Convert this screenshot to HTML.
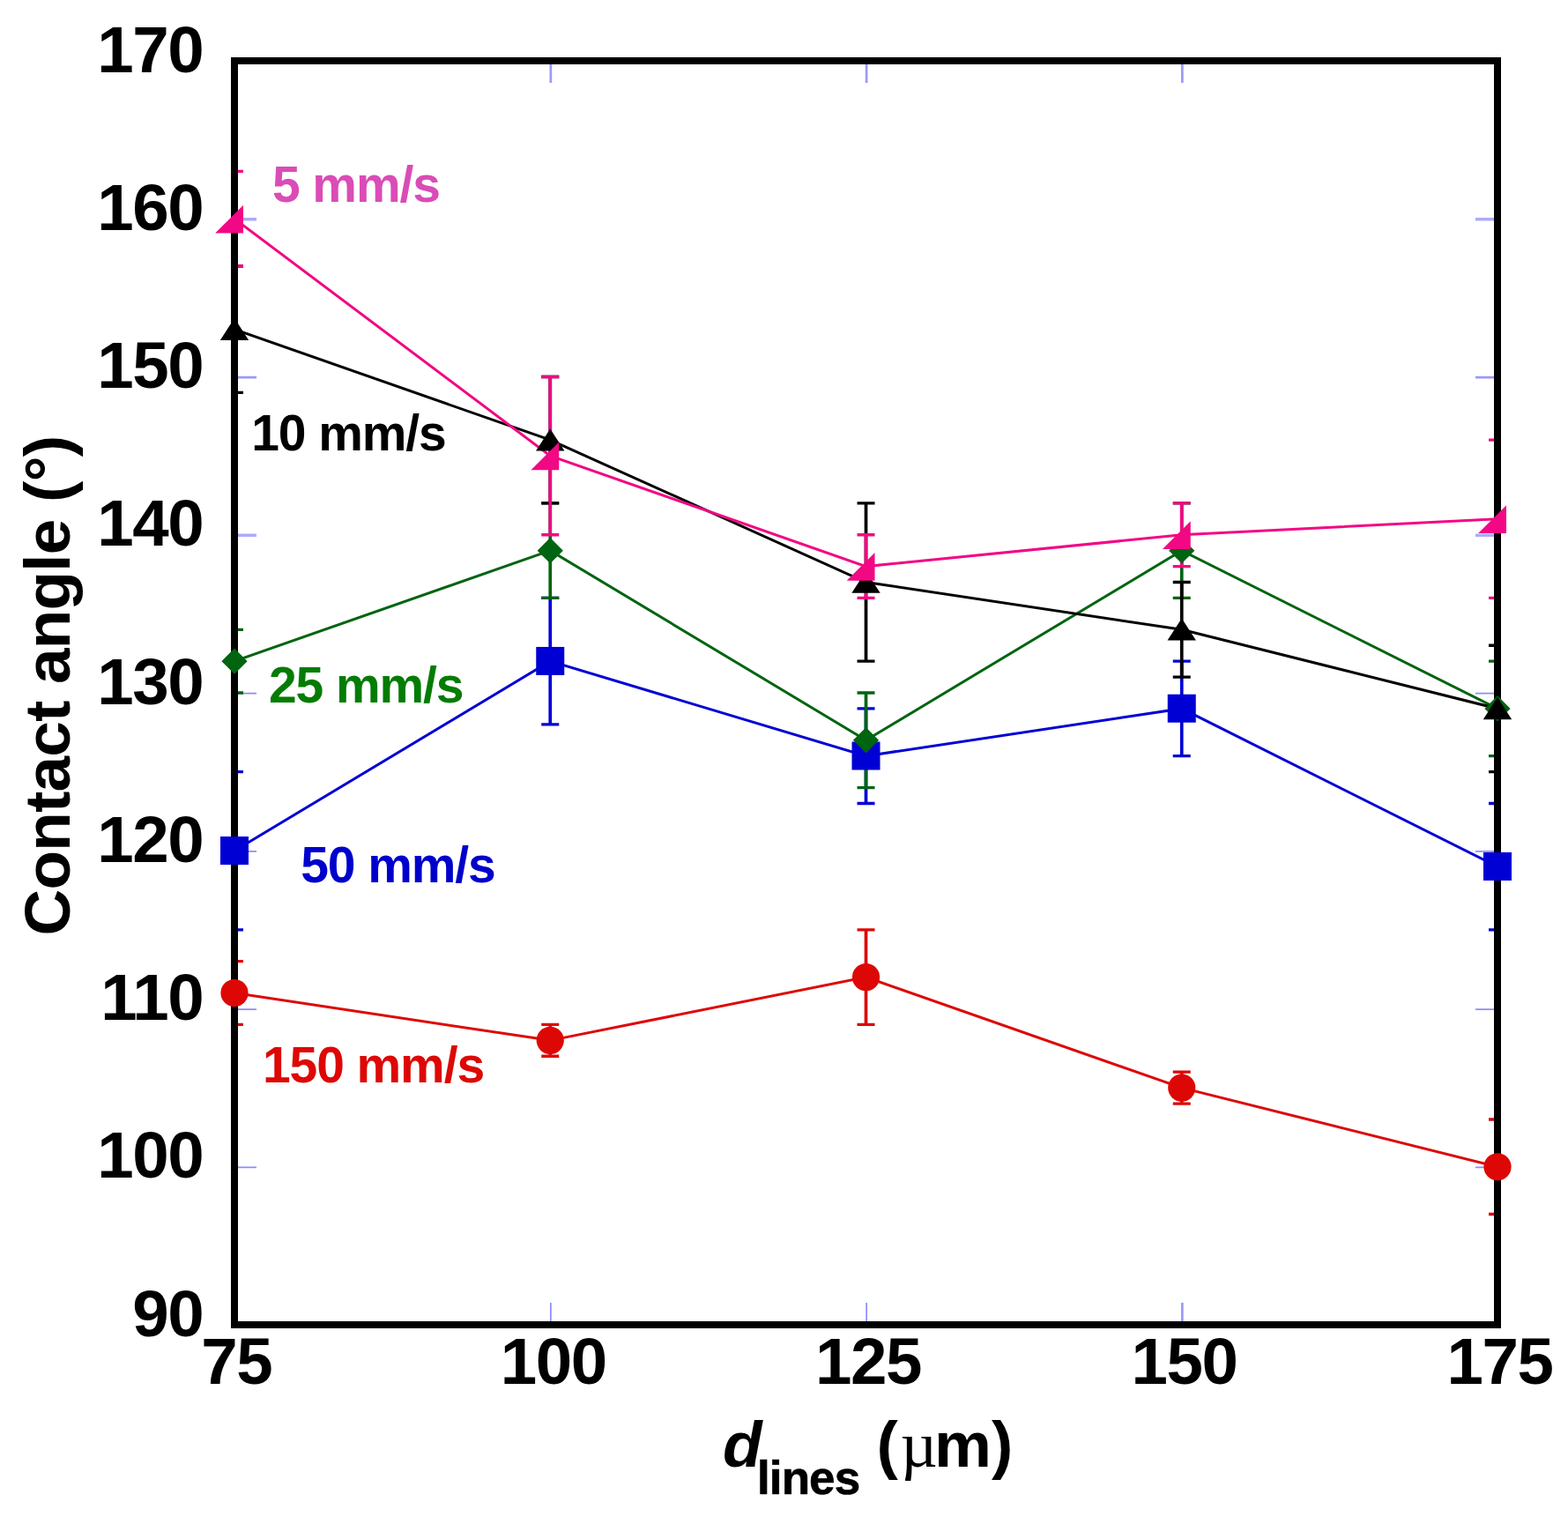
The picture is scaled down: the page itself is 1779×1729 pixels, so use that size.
<!DOCTYPE html>
<html lang="en">
<head>
<meta charset="utf-8">
<title>Contact angle vs line spacing</title>
<style>
html,body{margin:0;padding:0;background:#fff;}
body{width:1779px;height:1729px;overflow:hidden;}
svg{display:block;}
text{font-family:"Liberation Sans",sans-serif;font-weight:bold;white-space:pre;}
.tl{font-size:74.5px;letter-spacing:-1.4px;fill:#000;}
.sl{font-size:57px;letter-spacing:-1.1px;}
.al{font-size:73px;fill:#000;}
.yl{letter-spacing:-0.82px;}
.sub{font-size:53px;letter-spacing:-0.9px;stroke:#000;stroke-width:0.7px;}
.it{font-style:italic;}
.mu{font-family:"Liberation Serif",serif;font-weight:normal;}
</style>
</head>
<body>
<svg width="1779" height="1729" viewBox="0 0 1779 1729">
<rect x="0" y="0" width="1779" height="1729" fill="#fff"/>
<defs><clipPath id="plot"><rect x="266" y="69" width="1433" height="1434"/></clipPath></defs>
<g fill="none">
<path d="M270 248.85H291M1695 248.85H1674" stroke="#ababfc" stroke-width="3.5"/>
<path d="M270 428.1H291M1695 428.1H1674" stroke="#9a9afb" stroke-width="2.7"/>
<path d="M270 607.35H291M1695 607.35H1674" stroke="#ababfc" stroke-width="3.5"/>
<path d="M270 786.6H291M1695 786.6H1674" stroke="#8c8cfa" stroke-width="1.7"/>
<path d="M270 965.85H291M1695 965.85H1674" stroke="#8c8cfa" stroke-width="1.7"/>
<path d="M270 1145.1H291M1695 1145.1H1674" stroke="#8c8cfa" stroke-width="1.7"/>
<path d="M270 1324.35H291M1695 1324.35H1674" stroke="#8c8cfa" stroke-width="1.7"/>
<path d="M624.85 73V94" stroke="#9a9afb" stroke-width="2.7"/>
<path d="M624.85 1499V1478" stroke="#8c8cfa" stroke-width="1.7"/>
<path d="M983.1 73V94" stroke="#9a9afb" stroke-width="2.7"/>
<path d="M983.1 1499V1478" stroke="#8c8cfa" stroke-width="1.7"/>
<path d="M1341.35 73V94" stroke="#9a9afb" stroke-width="2.7"/>
<path d="M1341.35 1499V1478" stroke="#9a9afb" stroke-width="2.7"/>
</g>
<g clip-path="url(#plot)" fill="none">
<g stroke="#DD0806">
<path d="M266 1090.72V1162.42M624.25 1162.42V1198.27M982.5 1054.88V1162.42M1340.75 1216.2V1252.05M1699 1269.98V1377.52" stroke-width="3.7"/>
<path d="M256 1090.72H276M256 1162.42H276M614.25 1162.42H634.25M614.25 1198.27H634.25M972.5 1054.88H992.5M972.5 1162.42H992.5M1330.75 1216.2H1350.75M1330.75 1252.05H1350.75M1689 1269.98H1709M1689 1377.52H1709" stroke-width="3.3"/>
</g>
<g stroke="#0000D4">
<path d="M266 875.62V1054.88M624.25 678.45V821.85M982.5 803.92V911.48M1340.75 750.15V857.7M1699 911.48V1054.88" stroke-width="3.7"/>
<path d="M256 875.62H276M256 1054.88H276M614.25 678.45H634.25M614.25 821.85H634.25M972.5 803.92H992.5M972.5 911.48H992.5M1330.75 750.15H1350.75M1330.75 857.7H1350.75M1689 911.48H1709M1689 1054.88H1709" stroke-width="3.3"/>
</g>
<g stroke="#006411">
<path d="M266 714.3V786M624.25 570.9V678.45M982.5 786V893.55M1340.75 570.9V678.45M1699 750.15V857.7" stroke-width="3.7"/>
<path d="M256 714.3H276M256 786H276M614.25 570.9H634.25M614.25 678.45H634.25M972.5 786H992.5M972.5 893.55H992.5M1330.75 570.9H1350.75M1330.75 678.45H1350.75M1689 750.15H1709M1689 857.7H1709" stroke-width="3.3"/>
</g>
<g stroke="#000000">
<path d="M266 302.02V445.43M624.25 427.5V570.9M982.5 570.9V750.15M1340.75 660.52V768.07M1699 732.23V875.62" stroke-width="3.7"/>
<path d="M256 302.02H276M256 445.43H276M614.25 427.5H634.25M614.25 570.9H634.25M972.5 570.9H992.5M972.5 750.15H992.5M1330.75 660.52H1350.75M1330.75 768.07H1350.75M1689 732.23H1709M1689 875.62H1709" stroke-width="3.3"/>
</g>
<g stroke="#F20884">
<path d="M266 194.47V302.02M624.25 427.5V606.75M982.5 606.75V678.45M1340.75 570.9V642.6M1699 499.2V678.45" stroke-width="3.7"/>
<path d="M256 194.47H276M256 302.02H276M614.25 427.5H634.25M614.25 606.75H634.25M972.5 606.75H992.5M972.5 678.45H992.5M1330.75 570.9H1350.75M1330.75 642.6H1350.75M1689 499.2H1709M1689 678.45H1709" stroke-width="3.3"/>
</g>
<polyline points="266,1126.58 624.25,1180.35 982.5,1108.65 1340.75,1234.12 1699,1323.75" stroke="#DD0806" stroke-width="3.0"/>
<polyline points="266,965.25 624.25,750.15 982.5,857.7 1340.75,803.92 1699,983.17" stroke="#0000D4" stroke-width="3.0"/>
<polyline points="266,750.15 624.25,624.68 982.5,839.77 1340.75,624.68 1699,803.92" stroke="#006411" stroke-width="3.0"/>
<polyline points="266,373.72 624.25,499.2 982.5,660.52 1340.75,714.3 1699,803.92" stroke="#000000" stroke-width="3.0"/>
<polyline points="266,248.25 624.25,517.12 982.5,642.6 1340.75,606.75 1699,588.82" stroke="#F20884" stroke-width="3.0"/>
</g>
<rect x="266" y="69" width="1433" height="1434" fill="none" stroke="#000" stroke-width="8"/>
<g>
<circle cx="266" cy="1126.58" r="15.6" fill="#DD0806"/>
<circle cx="624.25" cy="1180.35" r="15.6" fill="#DD0806"/>
<circle cx="982.5" cy="1108.65" r="15.6" fill="#DD0806"/>
<circle cx="1340.75" cy="1234.12" r="15.6" fill="#DD0806"/>
<circle cx="1699" cy="1323.75" r="15.6" fill="#DD0806"/>
</g>
<g>
<rect x="250" y="949.05" width="32" height="32" fill="#0000D4"/>
<rect x="608.25" y="733.95" width="32" height="32" fill="#0000D4"/>
<rect x="966.5" y="841.5" width="32" height="32" fill="#0000D4"/>
<rect x="1324.75" y="787.72" width="32" height="32" fill="#0000D4"/>
<rect x="1683" y="966.97" width="32" height="32" fill="#0000D4"/>
</g>
<g>
<polygon points="266,735.55 280.6,750.15 266,764.75 251.4,750.15" fill="#006411"/>
<polygon points="624.25,610.08 638.85,624.68 624.25,639.28 609.65,624.68" fill="#006411"/>
<polygon points="982.5,825.17 997.1,839.77 982.5,854.38 967.9,839.77" fill="#006411"/>
<polygon points="1340.75,610.08 1355.35,624.68 1340.75,639.28 1326.15,624.68" fill="#006411"/>
<polygon points="1699,789.32 1713.6,803.92 1699,818.52 1684.4,803.92" fill="#006411"/>
</g>
<g>
<polygon points="266,360.92 282.2,386.02 249.8,386.02" fill="#000000"/>
<polygon points="624.25,486.4 640.45,511.5 608.05,511.5" fill="#000000"/>
<polygon points="982.5,647.73 998.7,672.82 966.3,672.82" fill="#000000"/>
<polygon points="1340.75,701.5 1356.95,726.6 1324.55,726.6" fill="#000000"/>
<polygon points="1699,791.12 1715.2,816.22 1682.8,816.22" fill="#000000"/>
</g>
<g>
<polygon points="244.2,264.45 276,264.45 276,232.65" fill="#F20884"/>
<polygon points="602.45,533.33 634.25,533.33 634.25,501.52" fill="#F20884"/>
<polygon points="960.7,658.8 992.5,658.8 992.5,627" fill="#F20884"/>
<polygon points="1318.95,622.95 1350.75,622.95 1350.75,591.15" fill="#F20884"/>
<polygon points="1677.2,605.02 1709,605.02 1709,573.22" fill="#F20884"/>
</g>
<text id="y170" class="tl" x="110.25" y="81.6">170</text>
<text id="y160" class="tl" x="110.25" y="260.85">160</text>
<text id="y150" class="tl" x="110.25" y="440.1">150</text>
<text id="y140" class="tl" x="110.25" y="619.35">140</text>
<text id="y130" class="tl" x="110.25" y="798.6">130</text>
<text id="y120" class="tl" x="110.25" y="977.85">120</text>
<text id="y110" class="tl" x="114.25" y="1157.1">110</text>
<text id="y100" class="tl" x="110.25" y="1336.35">100</text>
<text id="y90" class="tl" x="150.25" y="1515.6">90</text>
<text id="x75" class="tl" x="228.26" y="1570.3">75</text>
<text id="x100" class="tl" x="567.76" y="1570.3">100</text>
<text id="x125" class="tl" x="925" y="1570.3">125</text>
<text id="x150" class="tl" x="1283.51" y="1570.3">150</text>
<text id="x175" class="tl" x="1641.38" y="1570.3">175</text>
<text id="s5" class="sl" x="309" y="228.6" fill="#DA4CB6">5 mm/s</text>
<text id="s10" class="sl" x="285.25" y="511.2" fill="#000000">10 mm/s</text>
<text id="s25" class="sl" x="305" y="797.2" fill="#047C04">25 mm/s</text>
<text id="s50" class="sl" x="341.25" y="1000.8" fill="#0000CC">50 mm/s</text>
<text id="s150" class="sl" x="298" y="1228.1" fill="#DD0806">150 mm/s</text>
<text id="yl" class="al yl" transform="translate(78.9 1061.5) rotate(-90)" x="0" y="0">Contact angle (°)</text>
<text id="xl" class="al" y="1663.5"><tspan class="it" x="820">d</tspan><tspan class="sub" x="859" y="1695">lines</tspan><tspan x="974.5" y="1663.5"> </tspan><tspan x="994.5">(</tspan><tspan class="mu" x="1021.4">µ</tspan><tspan x="1060.1">m</tspan><tspan x="1125">)</tspan></text>
</svg>
</body>
</html>
